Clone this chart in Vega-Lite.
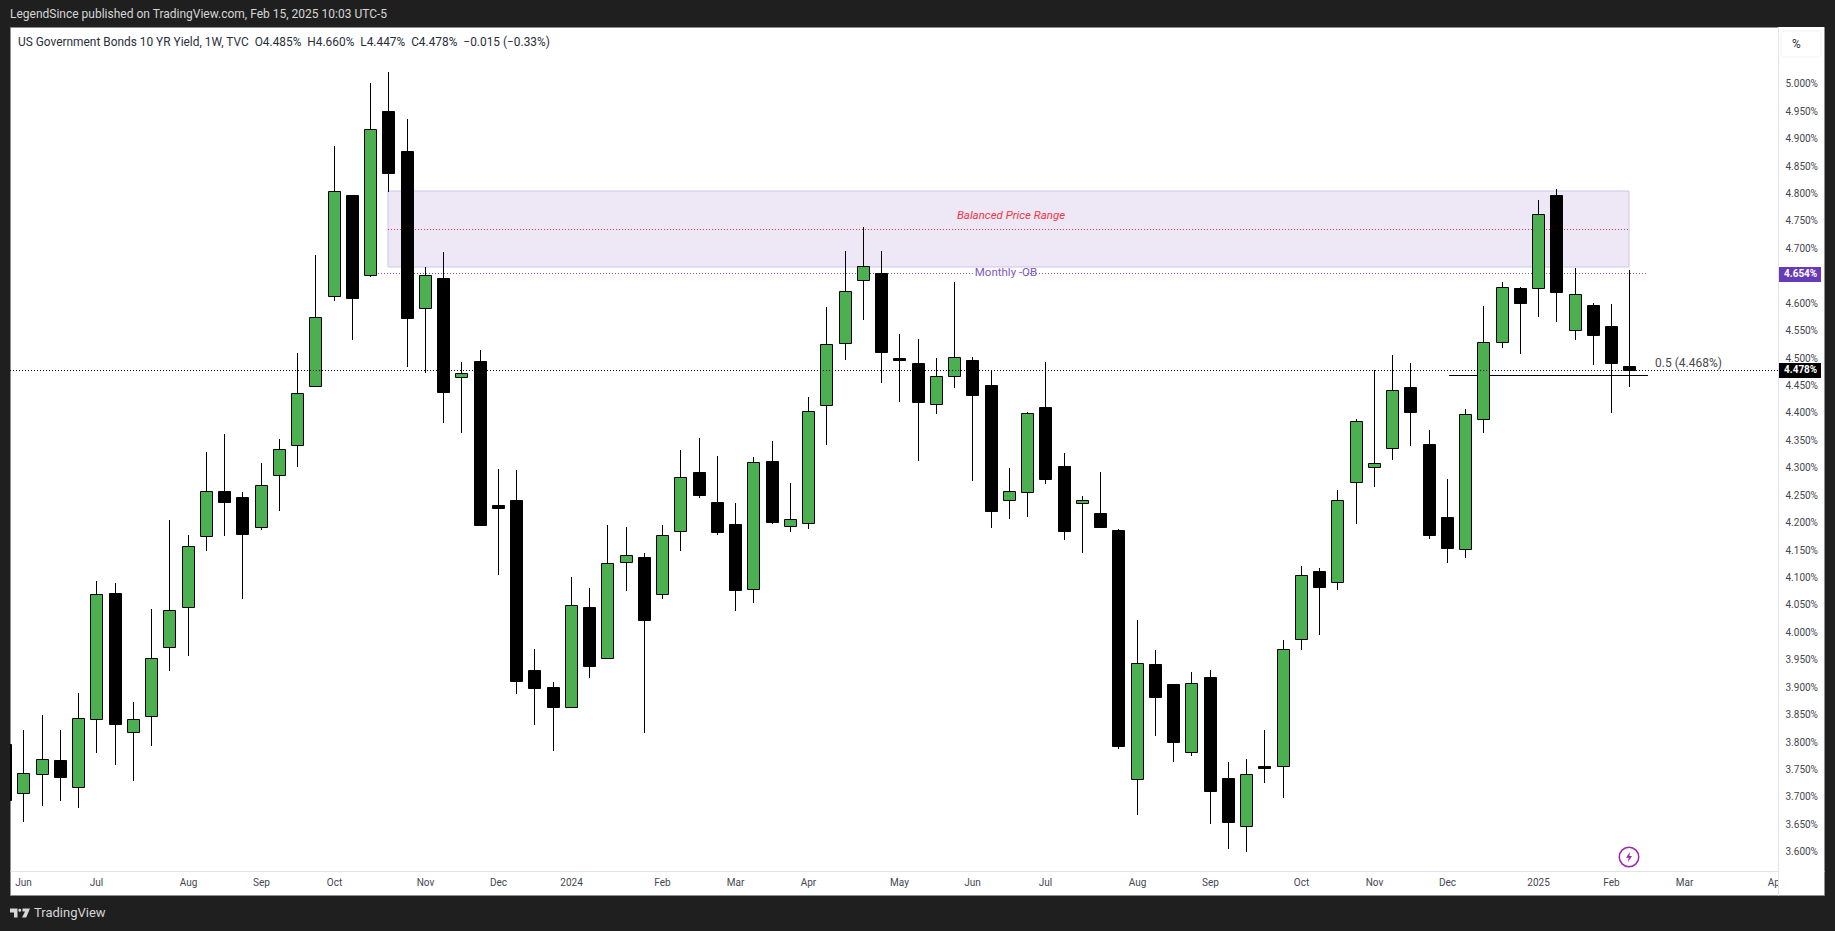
{
  "$schema": "https://vega.github.io/schema/vega-lite/v6.json",
  "width": 1814,
  "height": 868,
  "autosize": "none",
  "padding": {"left": 10, "top": 27, "right": 11, "bottom": 36},
  "background": "#1f1f1f",
  "view": {"fill": "#ffffff", "stroke": "#8f8f8f"},
  "title": {
    "text": "LegendSince published on TradingView.com, Feb 15, 2025 10:03 UTC-5",
    "anchor": "start",
    "frame": "group",
    "font": "Roboto",
    "fontSize": 12,
    "fontWeight": "normal",
    "color": "#d6d6d6",
    "offset": 6
  },
  "config": {"text": {"font": "Roboto"}, "axis": {"labelOverlap": false}},
  "datasets": {
    "candles": [
      {"date": "2023-05-29", "o": 3.7957, "h": 3.7957, "l": 3.6936, "c": 3.6936},
      {"date": "2023-06-05", "o": 3.7057, "h": 3.8211, "l": 3.6541, "c": 3.7422},
      {"date": "2023-06-12", "o": 3.7403, "h": 3.8485, "l": 3.6832, "c": 3.7677},
      {"date": "2023-06-19", "o": 3.7665, "h": 3.8211, "l": 3.6923, "c": 3.7361},
      {"date": "2023-06-26", "o": 3.7166, "h": 3.888, "l": 3.6796, "c": 3.8424},
      {"date": "2023-07-03", "o": 3.8406, "h": 4.0927, "l": 3.7798, "c": 4.0684},
      {"date": "2023-07-10", "o": 4.0709, "h": 4.0885, "l": 3.758, "c": 3.8327},
      {"date": "2023-07-17", "o": 3.8169, "h": 3.8716, "l": 3.7288, "c": 3.8406},
      {"date": "2023-07-24", "o": 3.8473, "h": 4.0417, "l": 3.7926, "c": 3.9518},
      {"date": "2023-07-31", "o": 3.9718, "h": 4.2039, "l": 3.9293, "c": 4.0393},
      {"date": "2023-08-07", "o": 4.0447, "h": 4.1766, "l": 3.9566, "c": 4.1559},
      {"date": "2023-08-14", "o": 4.1742, "h": 4.3279, "l": 4.148, "c": 4.2562},
      {"date": "2023-08-21", "o": 4.2568, "h": 4.3607, "l": 4.1754, "c": 4.2374},
      {"date": "2023-08-28", "o": 4.2459, "h": 4.2544, "l": 4.0605, "c": 4.179},
      {"date": "2023-09-04", "o": 4.1906, "h": 4.3079, "l": 4.1863, "c": 4.2671},
      {"date": "2023-09-11", "o": 4.2854, "h": 4.351, "l": 4.2209, "c": 4.3328},
      {"date": "2023-09-18", "o": 4.3401, "h": 4.5077, "l": 4.3012, "c": 4.4348},
      {"date": "2023-09-25", "o": 4.4488, "h": 4.687, "l": 4.4488, "c": 4.5734},
      {"date": "2023-10-02", "o": 4.6129, "h": 4.8857, "l": 4.6037, "c": 4.803},
      {"date": "2023-10-09", "o": 4.7964, "h": 4.7964, "l": 4.532, "c": 4.6092},
      {"date": "2023-10-16", "o": 4.6511, "h": 5.0005, "l": 4.6475, "c": 4.916},
      {"date": "2023-10-23", "o": 4.9495, "h": 5.0206, "l": 4.8024, "c": 4.837},
      {"date": "2023-10-30", "o": 4.8766, "h": 4.9349, "l": 4.4834, "c": 4.5727},
      {"date": "2023-11-06", "o": 4.5898, "h": 4.6651, "l": 4.4725, "c": 4.6499},
      {"date": "2023-11-13", "o": 4.6451, "h": 4.6918, "l": 4.3814, "c": 4.4379},
      {"date": "2023-11-20", "o": 4.464, "h": 4.4913, "l": 4.3631, "c": 4.4713},
      {"date": "2023-11-27", "o": 4.4938, "h": 4.5138, "l": 4.1954, "c": 4.1954},
      {"date": "2023-12-04", "o": 4.2307, "h": 4.2969, "l": 4.1037, "c": 4.2264},
      {"date": "2023-12-11", "o": 4.2404, "h": 4.2951, "l": 3.8868, "c": 3.9111},
      {"date": "2023-12-18", "o": 3.9305, "h": 3.9688, "l": 3.8303, "c": 3.8977},
      {"date": "2023-12-25", "o": 3.8995, "h": 3.9086, "l": 3.7829, "c": 3.8637},
      {"date": "2024-01-01", "o": 3.8637, "h": 4.1, "l": 3.8637, "c": 4.0484},
      {"date": "2024-01-08", "o": 4.0454, "h": 4.08, "l": 3.9159, "c": 3.9384},
      {"date": "2024-01-15", "o": 3.9518, "h": 4.1948, "l": 3.9518, "c": 4.1249},
      {"date": "2024-01-22", "o": 4.1281, "h": 4.1913, "l": 4.0751, "c": 4.1396},
      {"date": "2024-01-29", "o": 4.1365, "h": 4.1432, "l": 3.8163, "c": 4.0223},
      {"date": "2024-02-05", "o": 4.0684, "h": 4.1949, "l": 4.0605, "c": 4.176},
      {"date": "2024-02-12", "o": 4.1834, "h": 4.3316, "l": 4.1481, "c": 4.2818},
      {"date": "2024-02-19", "o": 4.2915, "h": 4.3535, "l": 4.2447, "c": 4.2502},
      {"date": "2024-02-26", "o": 4.2368, "h": 4.3207, "l": 4.1773, "c": 4.1828},
      {"date": "2024-03-04", "o": 4.1967, "h": 4.235, "l": 4.0387, "c": 4.0769},
      {"date": "2024-03-11", "o": 4.0788, "h": 4.3188, "l": 4.0532, "c": 4.3091},
      {"date": "2024-03-18", "o": 4.3116, "h": 4.348, "l": 4.1973, "c": 4.201},
      {"date": "2024-03-25", "o": 4.1925, "h": 4.2715, "l": 4.1828, "c": 4.2052},
      {"date": "2024-04-01", "o": 4.1979, "h": 4.4276, "l": 4.1882, "c": 4.4021},
      {"date": "2024-04-08", "o": 4.413, "h": 4.5923, "l": 4.3407, "c": 4.5242},
      {"date": "2024-04-15", "o": 4.526, "h": 4.6944, "l": 4.4963, "c": 4.6208},
      {"date": "2024-04-22", "o": 4.6409, "h": 4.7381, "l": 4.5692, "c": 4.6664},
      {"date": "2024-04-29", "o": 4.6536, "h": 4.6944, "l": 4.4544, "c": 4.5109},
      {"date": "2024-05-06", "o": 4.4987, "h": 4.5431, "l": 4.4197, "c": 4.4963},
      {"date": "2024-05-13", "o": 4.4902, "h": 4.5339, "l": 4.3122, "c": 4.4197},
      {"date": "2024-05-20", "o": 4.4149, "h": 4.4993, "l": 4.3979, "c": 4.4659},
      {"date": "2024-05-27", "o": 4.4659, "h": 4.6378, "l": 4.4452, "c": 4.5005},
      {"date": "2024-06-03", "o": 4.4957, "h": 4.5011, "l": 4.2757, "c": 4.4325},
      {"date": "2024-06-10", "o": 4.4501, "h": 4.4768, "l": 4.19, "c": 4.221},
      {"date": "2024-06-17", "o": 4.2399, "h": 4.2988, "l": 4.2064, "c": 4.2563},
      {"date": "2024-06-24", "o": 4.2544, "h": 4.4009, "l": 4.2101, "c": 4.3985},
      {"date": "2024-07-01", "o": 4.41, "h": 4.492, "l": 4.2703, "c": 4.2794},
      {"date": "2024-07-08", "o": 4.3024, "h": 4.3255, "l": 4.1682, "c": 4.1846},
      {"date": "2024-07-15", "o": 4.2344, "h": 4.2478, "l": 4.1445, "c": 4.2399},
      {"date": "2024-07-22", "o": 4.2168, "h": 4.2915, "l": 4.19, "c": 4.1919},
      {"date": "2024-07-29", "o": 4.1857, "h": 4.1875, "l": 3.7871, "c": 3.7926},
      {"date": "2024-08-05", "o": 3.7312, "h": 4.0217, "l": 3.6668, "c": 3.9427},
      {"date": "2024-08-12", "o": 3.9415, "h": 3.967, "l": 3.8102, "c": 3.8813},
      {"date": "2024-08-19", "o": 3.905, "h": 3.905, "l": 3.7628, "c": 3.7993},
      {"date": "2024-08-26", "o": 3.7817, "h": 3.9269, "l": 3.7738, "c": 3.9062},
      {"date": "2024-09-02", "o": 3.9178, "h": 3.9305, "l": 3.6504, "c": 3.71},
      {"date": "2024-09-09", "o": 3.7337, "h": 3.7628, "l": 3.6042, "c": 3.6535},
      {"date": "2024-09-16", "o": 3.6468, "h": 3.7683, "l": 3.5994, "c": 3.7403},
      {"date": "2024-09-23", "o": 3.7555, "h": 3.8212, "l": 3.7252, "c": 3.7519},
      {"date": "2024-09-30", "o": 3.7561, "h": 3.9852, "l": 3.6978, "c": 3.9682},
      {"date": "2024-10-07", "o": 3.9864, "h": 4.1201, "l": 3.9676, "c": 4.1031},
      {"date": "2024-10-14", "o": 4.111, "h": 4.1158, "l": 3.9943, "c": 4.0818},
      {"date": "2024-10-21", "o": 4.0915, "h": 4.2581, "l": 4.077, "c": 4.2399},
      {"date": "2024-10-28", "o": 4.2739, "h": 4.3875, "l": 4.1967, "c": 4.3839},
      {"date": "2024-11-04", "o": 4.3012, "h": 4.4768, "l": 4.2648, "c": 4.3073},
      {"date": "2024-11-11", "o": 4.3347, "h": 4.5048, "l": 4.314, "c": 4.4404},
      {"date": "2024-11-18", "o": 4.4465, "h": 4.4902, "l": 4.3395, "c": 4.4015},
      {"date": "2024-11-25", "o": 4.3426, "h": 4.3681, "l": 4.17, "c": 4.1773},
      {"date": "2024-12-02", "o": 4.2095, "h": 4.2788, "l": 4.1263, "c": 4.1536},
      {"date": "2024-12-09", "o": 4.1506, "h": 4.4064, "l": 4.1354, "c": 4.3966},
      {"date": "2024-12-16", "o": 4.3875, "h": 4.5941, "l": 4.3632, "c": 4.5279},
      {"date": "2024-12-23", "o": 4.5279, "h": 4.6378, "l": 4.5181, "c": 4.6281},
      {"date": "2024-12-30", "o": 4.6269, "h": 4.6287, "l": 4.5072, "c": 4.6002},
      {"date": "2025-01-06", "o": 4.6263, "h": 4.7873, "l": 4.5747, "c": 4.7612},
      {"date": "2025-01-13", "o": 4.7964, "h": 4.8074, "l": 4.5655, "c": 4.6202},
      {"date": "2025-01-20", "o": 4.551, "h": 4.6628, "l": 4.5321, "c": 4.6154},
      {"date": "2025-01-27", "o": 4.5959, "h": 4.5996, "l": 4.4866, "c": 4.5419},
      {"date": "2025-02-03", "o": 4.5576, "h": 4.5977, "l": 4.3991, "c": 4.4908},
      {"date": "2025-02-10", "o": 4.485, "h": 4.66, "l": 4.447, "c": 4.478}
    ]
  },
  "layer": [
    {
      "data": {"values": [{"date": "2025-04-08", "date2": "2025-04-25T16:48:00", "price": 3.5204, "price2": 5.1026}]},
      "mark": {"type": "rect", "fill": "#ffffff"},
      "encoding": {
        "x": {
          "field": "date",
          "type": "temporal",
          "title": null,
          "scale": {
            "domain": [
              {"year": 2023, "month": 5, "date": 30, "hours": 21, "minutes": 36},
              {"year": 2025, "month": 4, "date": 25, "hours": 16, "minutes": 48}
            ],
            "nice": false,
            "padding": 0,
            "round": true
          },
          "axis": {
            "orient": "bottom",
            "offset": -24,
            "zindex": 0,
            "title": null,
            "grid": false,
            "ticks": false,
            "domainColor": "#e0e3eb",
            "labelColor": "#434651",
            "labelFont": "Roboto",
            "labelFontSize": 10,
            "labelPadding": 6,
            "labelOverlap": false,
            "labelFlush": false,
            "labelBound": false,
            "tickCount": 40,
            "values": [
              {"year": 2023, "month": 6, "date": 5},
              {"year": 2023, "month": 7, "date": 3},
              {"year": 2023, "month": 8, "date": 7},
              {"year": 2023, "month": 9, "date": 4},
              {"year": 2023, "month": 10, "date": 2},
              {"year": 2023, "month": 11, "date": 6},
              {"year": 2023, "month": 12, "date": 4},
              {"year": 2024, "month": 1, "date": 1},
              {"year": 2024, "month": 2, "date": 5},
              {"year": 2024, "month": 3, "date": 4},
              {"year": 2024, "month": 4, "date": 1},
              {"year": 2024, "month": 5, "date": 6},
              {"year": 2024, "month": 6, "date": 3},
              {"year": 2024, "month": 7, "date": 1},
              {"year": 2024, "month": 8, "date": 5},
              {"year": 2024, "month": 9, "date": 2},
              {"year": 2024, "month": 10, "date": 7},
              {"year": 2024, "month": 11, "date": 4},
              {"year": 2024, "month": 12, "date": 2},
              {"year": 2025, "month": 1, "date": 6},
              {"year": 2025, "month": 2, "date": 3},
              {"year": 2025, "month": 3, "date": 3},
              {"year": 2025, "month": 4, "date": 7}
            ],
            "labelExpr": "month(datum.value) == 0 ? timeFormat(datum.value, '%Y') : timeFormat(datum.value, '%b')"
          }
        },
        "x2": {"field": "date2"},
        "y": {
          "field": "price",
          "type": "quantitative",
          "title": null,
          "scale": {"domain": [3.5204, 5.1026], "nice": false, "zero": false, "padding": 0, "round": true},
          "axis": {
            "orient": "right",
            "offset": -46,
            "zindex": 1,
            "title": null,
            "grid": false,
            "ticks": false,
            "domainColor": "#e0e3eb",
            "labelColor": "#434651",
            "labelFont": "Roboto",
            "labelFontSize": 10,
            "labelPadding": 7,
            "labelOverlap": false,
            "labelFlush": false,
            "tickCount": 40,
            "values": [3.6, 3.65, 3.7, 3.75, 3.8, 3.85, 3.9, 3.95, 4.0, 4.05, 4.1, 4.15, 4.2, 4.25, 4.3, 4.35, 4.4, 4.45, 4.5, 4.55, 4.6, 4.7, 4.75, 4.8, 4.85, 4.9, 4.95, 5.0],
            "labelExpr": "format(datum.value, '.3f') + '%'"
          }
        },
        "y2": {"field": "price2"}
      }
    },
    {
      "data": {"values": [{"date": "2023-10-23", "date2": "2025-02-10", "price": 4.6646, "price2": 4.8031}]},
      "mark": {"type": "rect", "fill": "#ede7f6", "stroke": "#d1c4e9", "strokeWidth": 1},
      "encoding": {
        "x": {"field": "date", "type": "temporal"},
        "x2": {"field": "date2"},
        "y": {"field": "price", "type": "quantitative"},
        "y2": {"field": "price2"}
      }
    },
    {
      "data": {"values": [{"date": "2023-10-23", "date2": "2025-02-10", "price": 4.7339}]},
      "mark": {"type": "rule", "color": "#f23645", "strokeWidth": 1, "strokeDash": [1, 2], "yOffset": 0.5},
      "encoding": {
        "x": {"field": "date", "type": "temporal"},
        "x2": {"field": "date2"},
        "y": {"field": "price", "type": "quantitative"}
      }
    },
    {
      "data": {"values": [
        {"date": "2023-10-19", "date2": "2024-06-04", "price": 4.6536},
        {"date": "2024-06-24", "date2": "2025-02-16T12:00:00", "price": 4.6536}
      ]},
      "mark": {"type": "rule", "color": "#7e57c2", "strokeWidth": 1, "strokeDash": [1, 2], "yOffset": 0.5},
      "encoding": {
        "x": {"field": "date", "type": "temporal"},
        "x2": {"field": "date2"},
        "y": {"field": "price", "type": "quantitative"}
      }
    },
    {
      "data": {"values": [{"date": "2024-12-03", "date2": "2025-02-17", "price": 4.468}]},
      "mark": {"type": "rule", "color": "#000000", "strokeWidth": 1, "yOffset": 0.5},
      "encoding": {
        "x": {"field": "date", "type": "temporal"},
        "x2": {"field": "date2"},
        "y": {"field": "price", "type": "quantitative"}
      }
    },
    {
      "data": {"name": "candles"},
      "mark": {"type": "rule", "color": "#000000", "strokeWidth": 1, "clip": true, "xOffset": 0.5},
      "encoding": {
        "x": {"field": "date", "type": "temporal"},
        "y": {"field": "l", "type": "quantitative"},
        "y2": {"field": "h"}
      }
    },
    {
      "data": {"name": "candles"},
      "mark": {"type": "bar", "width": 12, "stroke": "#000000", "strokeWidth": 1, "clip": true, "xOffset": 0.5, "yOffset": 0.5, "y2Offset": 0.5},
      "encoding": {
        "x": {"field": "date", "type": "temporal"},
        "y": {"field": "o", "type": "quantitative"},
        "y2": {"field": "c"},
        "color": {"condition": {"test": "datum.c >= datum.o", "value": "#4caf50"}, "value": "#000000"}
      }
    },
    {
      "data": {"values": [{"date": "2023-05-30T21:36:00", "date2": "2025-04-08", "price": 4.478}]},
      "mark": {"type": "rule", "color": "#000000", "strokeWidth": 1, "strokeDash": [1, 2], "yOffset": 0.5},
      "encoding": {
        "x": {"field": "date", "type": "temporal"},
        "x2": {"field": "date2"},
        "y": {"field": "price", "type": "quantitative"}
      }
    },
    {
      "data": {"values": [
        {"date": "2025-04-08", "date2": "2025-04-24T12:00:00", "price": 4.6378, "price2": 4.6652, "tag": "ob"},
        {"date": "2025-04-08", "date2": "2025-04-24T12:00:00", "price": 4.4628, "price2": 4.4902, "tag": "close"}
      ]},
      "mark": {"type": "rect"},
      "encoding": {
        "x": {"field": "date", "type": "temporal"},
        "x2": {"field": "date2"},
        "y": {"field": "price", "type": "quantitative"},
        "y2": {"field": "price2"},
        "color": {"field": "tag", "type": "nominal", "legend": null, "scale": {"domain": ["ob", "close"], "range": ["#673ab7", "#000000"]}}
      }
    },
    {
      "data": {"values": [{"date": "2025-04-09T02:00:00", "date2": "2025-04-24T12:00:00", "price": 5.0485, "price2": 5.0953}]},
      "mark": {"type": "rect", "fill": "#ffffff", "stroke": "#f0f3fa", "strokeWidth": 1, "cornerRadius": 4},
      "encoding": {
        "x": {"field": "date", "type": "temporal"},
        "x2": {"field": "date2"},
        "y": {"field": "price", "type": "quantitative"},
        "y2": {"field": "price2"}
      }
    },
    {
      "data": {"values": [
        {"date": "2025-04-10T06:00:00", "price": 4.6515, "label": "4.654%"},
        {"date": "2025-04-10T06:00:00", "price": 4.4765, "label": "4.478%"}
      ]},
      "mark": {"type": "text", "align": "left", "baseline": "middle", "fontSize": 10, "fontWeight": "bold", "color": "#ffffff"},
      "encoding": {
        "x": {"field": "date", "type": "temporal"},
        "y": {"field": "price", "type": "quantitative"},
        "text": {"field": "label"}
      }
    },
    {
      "data": {"values": [
        {"date": "2023-06-02T20:00:00", "price": 5.0753, "label": "US Government Bonds 10 YR Yield, 1W, TVC\u00a0\u00a0O4.485%\u00a0\u00a0H4.660%\u00a0\u00a0L4.447%\u00a0\u00a0C4.478%\u00a0\u00a0\u22120.015 (\u22120.33%)"},
        {"date": "2025-04-13T12:00:00", "price": 5.0716, "label": "%"}
      ]},
      "mark": {"type": "text", "align": "left", "baseline": "middle", "fontSize": 11.9, "color": "#2a2e39"},
      "encoding": {
        "x": {"field": "date", "type": "temporal"},
        "y": {"field": "price", "type": "quantitative"},
        "text": {"field": "label"}
      }
    },
    {
      "data": {"values": [{"date": "2024-06-18", "price": 4.7581, "label": "Balanced Price Range"}]},
      "mark": {"type": "text", "align": "center", "baseline": "middle", "fontSize": 11.5, "fontStyle": "italic", "color": "#f23645"},
      "encoding": {
        "x": {"field": "date", "type": "temporal"},
        "y": {"field": "price", "type": "quantitative"},
        "text": {"field": "label"}
      }
    },
    {
      "data": {"values": [{"date": "2024-06-16", "price": 4.6542, "label": "Monthly -OB"}]},
      "mark": {"type": "text", "align": "center", "baseline": "middle", "fontSize": 11.5, "color": "#7e57c2"},
      "encoding": {
        "x": {"field": "date", "type": "temporal"},
        "y": {"field": "price", "type": "quantitative"},
        "text": {"field": "label"}
      }
    },
    {
      "data": {"values": [{"date": "2025-02-20", "price": 4.4907, "label": "0.5 (4.468%)"}]},
      "mark": {"type": "text", "align": "left", "baseline": "middle", "fontSize": 12, "color": "#4a4a4a"},
      "encoding": {
        "x": {"field": "date", "type": "temporal"},
        "y": {"field": "price", "type": "quantitative"},
        "text": {"field": "label"}
      }
    },
    {
      "data": {"values": [{"date": "2025-02-10", "price": 3.5891}]},
      "mark": {"type": "point", "shape": "circle", "size": 380, "filled": false, "stroke": "#9c27b0", "strokeWidth": 1.5, "opacity": 1},
      "encoding": {
        "x": {"field": "date", "type": "temporal"},
        "y": {"field": "price", "type": "quantitative"}
      }
    },
    {
      "data": {"values": [{"date": "2025-02-10", "price": 3.5891}]},
      "mark": {"type": "point", "shape": "M0.2,-1 L-0.6,0.15 H-0.08 L-0.2,1 L0.6,-0.2 H0.08 Z", "size": 100, "filled": true, "color": "#9c27b0", "opacity": 1},
      "encoding": {
        "x": {"field": "date", "type": "temporal"},
        "y": {"field": "price", "type": "quantitative"}
      }
    },
    {
      "data": {"values": [{"date": "2023-06-03T17:00:00", "price": 3.4885}]},
      "mark": {"type": "point", "shape": "M-1,-0.45 H-0.25 V0.45 H-0.6 V-0.05 H-1 Z M-0.17,-0.28 a0.15,0.15 0 1,0 0.3,0 a0.15,0.15 0 1,0 -0.3,0 Z M0.25,-0.45 H1 L0.62,0.45 H0.2 L0.5,-0.15 H0.25 Z", "size": 400, "filled": true, "color": "#d6d6d6", "opacity": 1},
      "encoding": {
        "x": {"field": "date", "type": "temporal"},
        "y": {"field": "price", "type": "quantitative"}
      }
    },
    {
      "data": {"values": [{"date": "2023-06-09", "price": 3.4876, "label": "TradingView"}]},
      "mark": {"type": "text", "align": "left", "baseline": "middle", "fontSize": 13, "color": "#d6d6d6"},
      "encoding": {
        "x": {"field": "date", "type": "temporal"},
        "y": {"field": "price", "type": "quantitative"},
        "text": {"field": "label"}
      }
    }
  ]
}
